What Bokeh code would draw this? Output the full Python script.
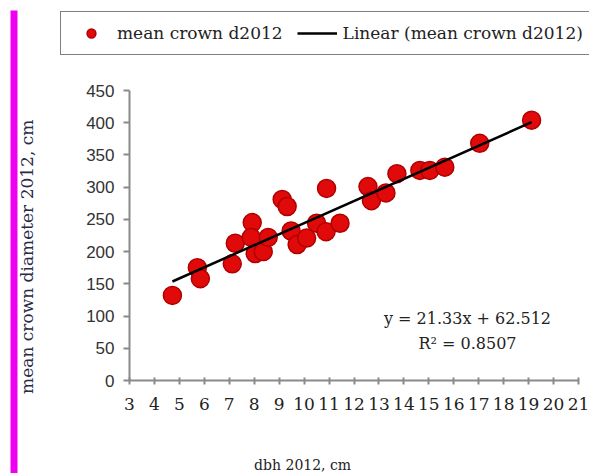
import math
import numpy as np
from bokeh.plotting import figure
from bokeh.models import Label, Legend, LegendItem, BoxAnnotation, FixedTicker, Range1d, ColumnDataSource
from bokeh.embed import file_html
from bokeh.resources import INLINE

# data
dbh_2012 = [4.72, 5.72, 5.84, 7.12, 7.24, 7.92, 7.88, 8.04, 8.36, 8.56,
            9.12, 9.32, 9.48, 9.72, 10.1, 10.5, 10.9, 10.88, 11.44,
            12.56, 12.7, 13.28, 13.72, 14.64, 15.04, 15.64, 17.04, 19.12]
crown_2012 = [132, 175, 158, 181, 213, 245, 222, 197, 200, 222,
              281, 270, 232, 211, 221, 244, 298, 231, 244,
              301, 279, 291, 321, 326, 326, 331, 368, 404]
x_ticks = list(range(3, 22))
y_ticks = list(range(0, 451, 50))
eq_text = "y = 21.33x + 62.512"
r2_text = "R\u00b2 = 0.8507"
series_name = "mean crown d2012"
trend_name = "Linear (mean crown d2012)"
x_title = "dbh 2012, cm"
y_title = "mean crown diameter 2012, cm"

# the frame fills the canvas; the axes sit at fixed data locations
p = figure(width=589, height=473, output_backend="svg", toolbar_location=None,
           x_range=Range1d(-2.1716, 21.441), y_range=Range1d(-144.31, 589.66),
           min_border_left=0, min_border_right=0, min_border_top=0, min_border_bottom=0)
p.outline_line_color = None
p.grid.visible = False
p.background_fill_color = "white"
p.border_fill_color = "white"

# axes
p.xaxis.ticker = FixedTicker(ticks=x_ticks)
p.yaxis.ticker = FixedTicker(ticks=y_ticks)
p.xaxis.fixed_location = 0
p.yaxis.fixed_location = 3
p.xaxis.bounds = (3, 21)
p.yaxis.bounds = (0, 450)
for ax in (p.xaxis, p.yaxis):
    ax.axis_line_color = "#8a8a8a"
    ax.axis_line_width = 2
    ax.major_tick_line_color = "#8a8a8a"
    ax.major_tick_line_width = 2
    ax.minor_tick_line_color = None
p.yaxis.major_tick_out = 6
p.yaxis.major_tick_in = 0
p.yaxis.major_label_standoff = 9
p.yaxis.major_label_text_font = "Liberation Sans"
p.yaxis.major_label_text_font_size = "17px"
p.yaxis.major_label_text_color = "#333333"
p.xaxis.major_tick_out = 4
p.xaxis.major_tick_in = 3
p.xaxis.major_label_standoff = 13
p.xaxis.major_label_text_font = "DejaVu Serif"
p.xaxis.major_label_text_font_size = "17px"
p.xaxis.major_label_text_color = "#222222"

src = ColumnDataSource(dict(x=dbh_2012, y=crown_2012))
pts = p.scatter("x", "y", source=src, size=18, fill_color="#e00a0a", line_color="#b00000", line_width=1.5)

slope, intercept = np.polyfit(dbh_2012, crown_2012, 1)
lx = [min(dbh_2012), max(dbh_2012)]
ly = [slope * v + intercept for v in lx]
ln = p.line(lx, ly, line_color="black", line_width=2.5)

# texts
p.add_layout(Label(x=16.55, y=96, text=eq_text, text_align="center", text_baseline="middle",
                   text_font="DejaVu Serif", text_font_size="16px", text_color="#222222"))
p.add_layout(Label(x=16.55, y=57, text=r2_text, text_align="center", text_baseline="middle",
                   text_font="DejaVu Serif", text_font_size="16px", text_color="#222222"))
p.add_layout(Label(x=9.94, y=-131, text=x_title, text_align="center", text_baseline="middle",
                   text_font="DejaVu Serif", text_font_size="14px", text_color="#222222"))
p.add_layout(Label(x=-1.09, y=192, text=y_title, text_align="center", text_baseline="middle",
                   angle=math.pi / 2, text_font="DejaVu Serif", text_font_size="17px",
                   text_color="#2a2a48"))

# magenta bar at the left edge
p.add_layout(BoxAnnotation(left=-1.77, right=-1.49, bottom=-150, top=574,
                           fill_color="#f000f0", fill_alpha=1, line_color=None))

legend = Legend(items=[LegendItem(label=series_name, renderers=[pts]),
                       LegendItem(label=trend_name, renderers=[ln])],
                orientation="horizontal", location=(60, 418),
                glyph_width=40, glyph_height=22, padding=10, spacing=14, label_standoff=6,
                label_text_font="DejaVu Serif", label_text_font_size="17px",
                label_text_color="#222222",
                border_line_color="black", border_line_width=1, background_fill_alpha=1,
                margin=0)
p.add_layout(legend)

open("out.html", "w").write(file_html(p, INLINE))
